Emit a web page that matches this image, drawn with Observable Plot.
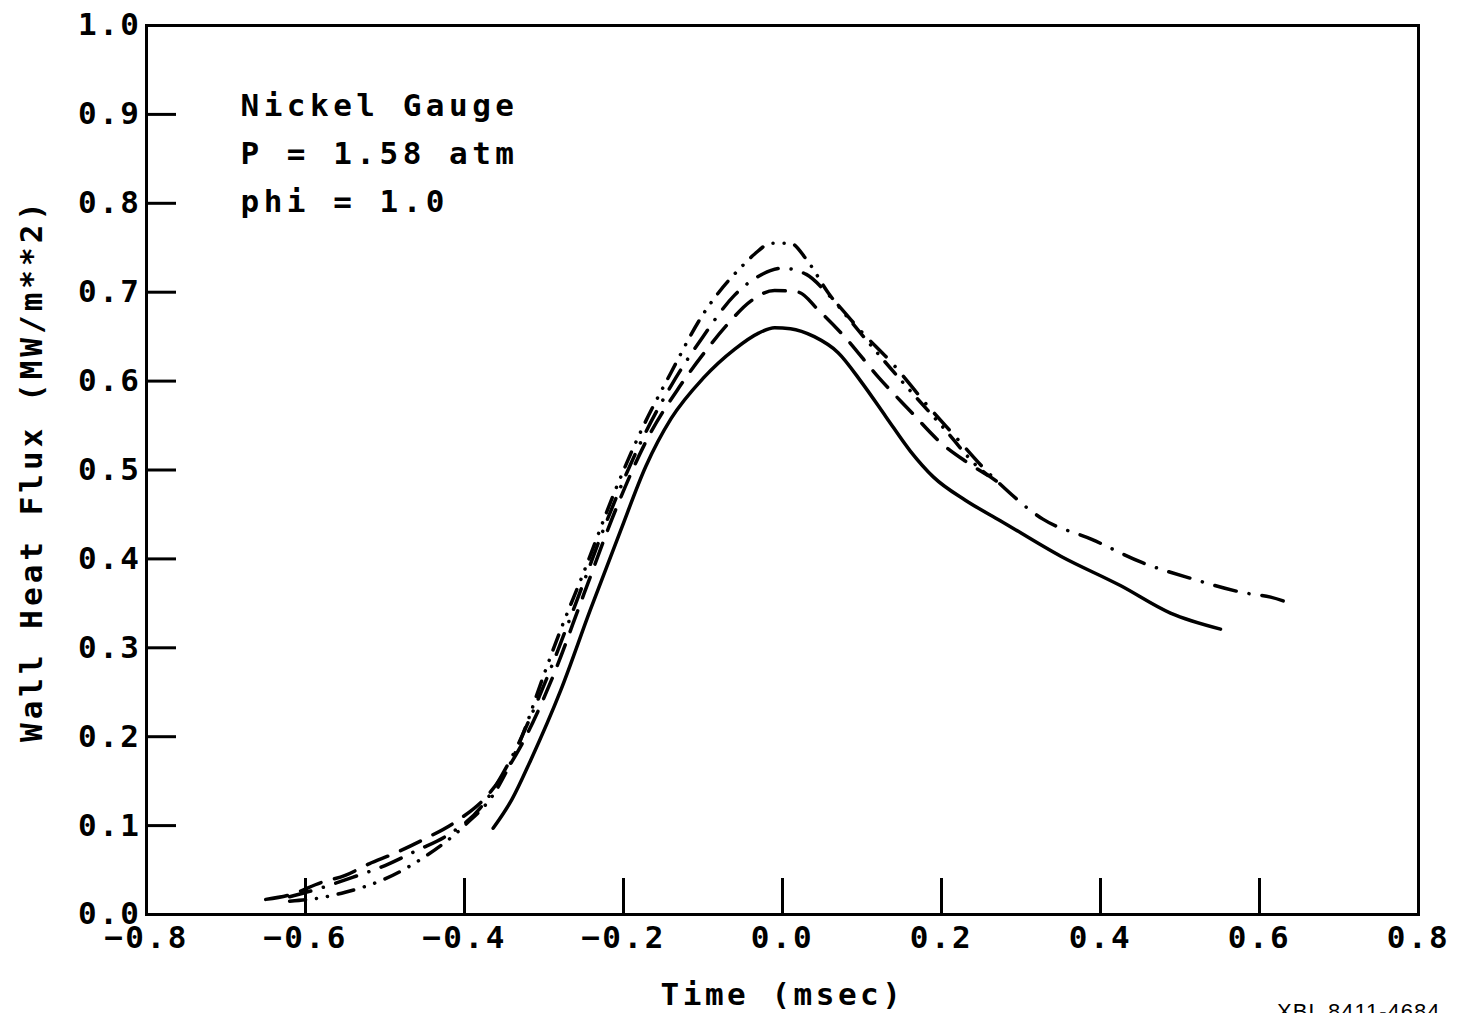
<!DOCTYPE html>
<html>
<head>
<meta charset="utf-8">
<script src="https://cdn.jsdelivr.net/npm/d3@7"></script>
<script src="https://cdn.jsdelivr.net/npm/@observablehq/plot@0.6"></script>
<style>
  html, body { margin: 0; padding: 0; background: #fff; overflow: hidden; }
  #chart svg { font-family: "DejaVu Sans Mono", monospace; font-weight: bold; letter-spacing: 2.5px; }
  #chart svg text[aria-label="annotation"] { letter-spacing: 4.5px; }
  #chart svg text[aria-label="ylabel"] { letter-spacing: 4px; }
  #chart svg text[aria-label="xlabel"] { letter-spacing: 3.5px; }
  #chart svg text[aria-label="code"] { letter-spacing: 1px; }
</style>
</head>
<body>
<div id="chart"></div>
<script>
// Tick values
const xTicks = [-0.8, -0.6, -0.4, -0.2, 0.0, 0.2, 0.4, 0.6, 0.8];
const yTicks = [0.0, 0.1, 0.2, 0.3, 0.4, 0.5, 0.6, 0.7, 0.8, 0.9, 1.0];
const xInnerTicks = [-0.6, -0.4, -0.2, 0.0, 0.2, 0.4, 0.6];
const yInnerTicks = [0.1, 0.2, 0.3, 0.4, 0.5, 0.6, 0.7, 0.8, 0.9];

// Solid curve
const solidX = [-0.364, -0.34, -0.317, -0.279, -0.242, -0.204, -0.172, -0.14, -0.10, -0.06, -0.03, -0.01, 0.01, 0.04, 0.07, 0.10, 0.13, 0.161, 0.19, 0.23, 0.274, 0.35, 0.425, 0.488, 0.551];
const solidY = [0.097, 0.13, 0.173, 0.252, 0.342, 0.431, 0.504, 0.558, 0.603, 0.636, 0.654, 0.660, 0.659, 0.650, 0.632, 0.598, 0.560, 0.521, 0.492, 0.466, 0.443, 0.403, 0.370, 0.339, 0.321];

// Dashed curve
const dashedX = [-0.65, -0.62, -0.58, -0.55, -0.52, -0.49, -0.45, -0.41, -0.37, -0.33, -0.29, -0.25, -0.21, -0.17, -0.13, -0.10, -0.07, -0.04, -0.01, 0.02, 0.045, 0.08, 0.12, 0.16, 0.20, 0.23, 0.258];
const dashedY = [0.017, 0.022, 0.036, 0.044, 0.057, 0.068, 0.085, 0.105, 0.135, 0.188, 0.265, 0.36, 0.455, 0.535, 0.593, 0.630, 0.663, 0.690, 0.702, 0.700, 0.680, 0.648, 0.605, 0.567, 0.530, 0.510, 0.494];

// Dash-dot curve
const dashDotX = [-0.62, -0.58, -0.54, -0.50, -0.46, -0.42, -0.38, -0.34, -0.30, -0.26, -0.22, -0.18, -0.14, -0.10, -0.06, -0.03, 0.0, 0.03, 0.06, 0.10, 0.14, 0.18, 0.22, 0.25, 0.274, 0.327, 0.389, 0.452, 0.514, 0.58, 0.614, 0.645];
const dashDotY = [0.02, 0.03, 0.042, 0.055, 0.072, 0.09, 0.12, 0.178, 0.258, 0.35, 0.445, 0.528, 0.595, 0.650, 0.697, 0.718, 0.727, 0.720, 0.695, 0.655, 0.618, 0.575, 0.535, 0.505, 0.484, 0.445, 0.422, 0.396, 0.378, 0.362, 0.357, 0.348];

// Dash-dot-dot curve (highest peak)
const dashDotDotX = [-0.62, -0.58, -0.55, -0.50, -0.45, -0.40, -0.36, -0.33, -0.30, -0.28, -0.25, -0.21, -0.18, -0.14, -0.10, -0.08, -0.05, -0.035, -0.014, 0.01, 0.03, 0.057, 0.089, 0.12, 0.15, 0.20, 0.25, 0.27];
const dashDotDotY = [0.015, 0.019, 0.025, 0.040, 0.065, 0.100, 0.140, 0.195, 0.27, 0.318, 0.385, 0.478, 0.540, 0.610, 0.675, 0.700, 0.730, 0.743, 0.755, 0.755, 0.737, 0.700, 0.664, 0.631, 0.600, 0.550, 0.500, 0.487];

const series = [
  {name: "solid", xs: solidX, ys: solidY, dash: null},
  {name: "dashed", xs: dashedX, ys: dashedY, dash: "22,14"},
  {name: "dashdot", xs: dashDotX, ys: dashDotY, dash: "22,13,0.1,13"},
  {name: "dashdotdot", xs: dashDotDotX, ys: dashDotDotY, dash: "16,11,0.1,11,0.1,11"}
];

const W = 1458, H = 1013;
const mL = 146, mR = 40, mT = 25, mB = 99;
const plotW = W - mL - mR, plotH = H - mT - mB;

const lineMarks = series.map(s => Plot.line(
  s.xs.map((x, i) => ({x, y: s.ys[i]})),
  {x: "x", y: "y", stroke: "black", strokeWidth: 3.5, strokeLinecap: "round", strokeLinejoin: "round",
   strokeDasharray: s.dash, curve: "monotone-x"}
));

const chart = Plot.plot({
  width: W,
  height: H,
  marginLeft: mL,
  marginRight: mR,
  marginTop: mT,
  marginBottom: mB,
  style: {fontSize: "31px", color: "black", background: "white"},
  x: {domain: [-0.8, 0.8]},
  y: {domain: [0, 1.0]},
  marks: [
    Plot.frame({stroke: "black", strokeWidth: 3}),
    Plot.tickY(yInnerTicks, {y: d => d, stroke: "black", strokeWidth: 3, insetRight: plotW - 30}),
    Plot.tickX(xInnerTicks, {x: d => d, stroke: "black", strokeWidth: 3, insetTop: plotH - 36}),
    Plot.axisX(xTicks, {tickSize: 0, tickPadding: 11, tickFormat: d3.format(".1f"), label: null, fontSize: 31}),
    Plot.axisY(yTicks, {tickSize: 0, tickPadding: 5, tickFormat: d3.format(".1f"), label: null, fontSize: 31}),
    ...lineMarks,
    Plot.text(["Nickel Gauge\nP = 1.58 atm\nphi = 1.0"], {
      frameAnchor: "top-left", dx: 94, dy: 56, textAnchor: "start", lineAnchor: "top",
      lineHeight: 1.55, fontSize: 31, fill: "black", ariaLabel: () => "annotation"
    }),
    Plot.text(["Wall Heat Flux (MW/m**2)"], {
      frameAnchor: "left", dx: -114, dy: 0, rotate: -90, textAnchor: "middle", fontSize: 31, fill: "black",
      ariaLabel: () => "ylabel"
    }),
    Plot.text(["Time (msec)"], {
      frameAnchor: "bottom", dy: 90, fontSize: 31, fill: "black", ariaLabel: () => "xlabel"
    }),
    Plot.text(["XBL 8411-4684"], {
      frameAnchor: "bottom-right", dx: 22, dy: 104, textAnchor: "end", fontSize: 22,
      fontWeight: "normal", fill: "black", fontFamily: "Liberation Sans", ariaLabel: () => "code"
    })
  ]
});

document.getElementById("chart").appendChild(chart);
</script>
</body>
</html>
